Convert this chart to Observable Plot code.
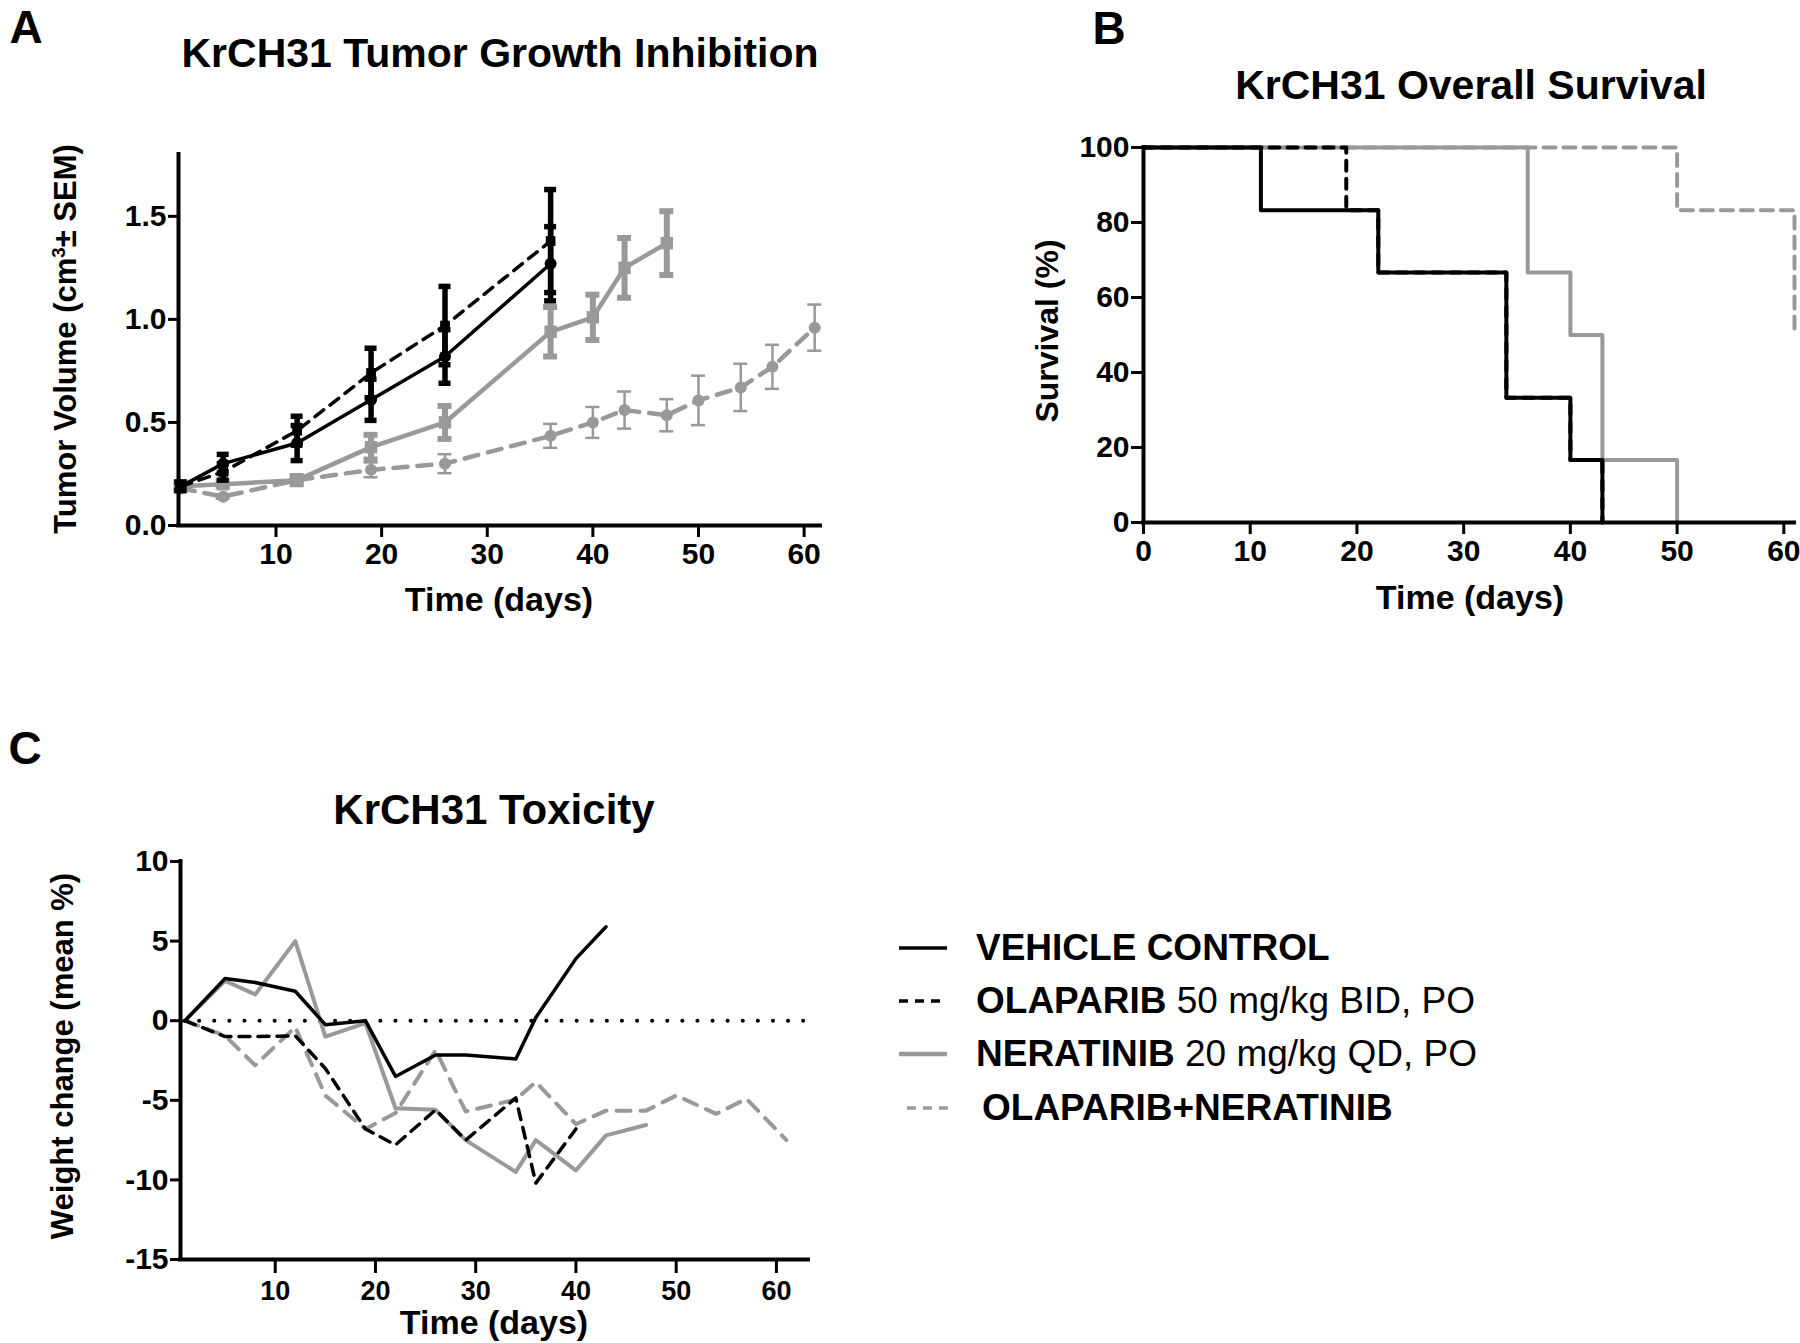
<!DOCTYPE html>
<html>
<head>
<meta charset="utf-8">
<script src="https://cdn.jsdelivr.net/npm/d3@7"></script>
<script src="https://cdn.jsdelivr.net/npm/@observablehq/plot@0.6"></script>
<style>
html,body{margin:0;padding:0;background:#fff;}
#fig{position:relative;width:1800px;height:1343px;overflow:hidden;font-family:"Liberation Sans",Arial,Helvetica,sans-serif;color:#000;}
.abs{position:absolute;white-space:nowrap;line-height:1.2;}
.c{transform:translate(-50%,-50%);}
.rot{transform:translate(-50%,-50%) rotate(-90deg);}
.b{font-weight:bold;}
.n{font-weight:normal;}
.panel{position:absolute;}
.lg{position:absolute;display:flex;align-items:center;white-space:nowrap;font-size:37px;line-height:1.2;transform:translateY(-50%);}
</style>
</head>
<body>
<div id="fig"></div>
<script>
// ---------------- DATA ----------------
// Panel A: tumour volume (cm3) and SEM by day
const aDays = [1, 5, 12, 19, 26, 36, 40, 43, 47, 50, 54, 57, 61];
const aVehicleVol   = [0.19, 0.30, 0.40, 0.61, 0.82, 1.27];
const aVehicleSem   = [0.02, 0.045, 0.085, 0.10, 0.13, 0.18];
const aOlaparibVol  = [0.19, 0.26, 0.46, 0.74, 0.97, 1.38];
const aOlaparibSem  = [0.02, 0.04, 0.07, 0.12, 0.19, 0.25];
const aNeratinibVol = [0.19, 0.20, 0.22, 0.38, 0.50, 0.94, 1.01, 1.25, 1.37];
const aNeratinibSem = [0.02, 0.01, 0.02, 0.06, 0.08, 0.12, 0.11, 0.145, 0.155];
const aComboVol     = [0.18, 0.14, 0.22, 0.27, 0.30, 0.435, 0.50, 0.56, 0.535, 0.607, 0.67, 0.77, 0.96];
const aComboSem     = [0.01, 0.01, 0.01, 0.036, 0.046, 0.058, 0.075, 0.09, 0.078, 0.12, 0.115, 0.107, 0.112];

// Panel B: Kaplan-Meier survival (%)
const bVehicleDays   = [0, 11, 22, 34, 40, 43];
const bVehicleSurv   = [100, 83.3, 66.7, 33.3, 16.7, 0];
const bOlaparibDays  = [0, 19, 22, 34, 40, 43];
const bOlaparibSurv  = [100, 83.3, 66.7, 33.3, 16.7, 0];
const bNeratinibDays = [0, 36, 40, 43, 50];
const bNeratinibSurv = [100, 66.7, 50, 16.7, 0];
const bComboDays     = [0, 50, 61];
const bComboSurv     = [100, 83.3, 50];

// Panel C: weight change (mean %)
const cDays = [1, 5, 8, 12, 15, 19, 22, 26, 29, 34, 36, 40, 43, 47, 50, 54, 57, 61];
const cVehicleWt   = [0, 2.65, 2.4, 1.85, -0.25, 0, -3.5, -2.15, -2.15, -2.4, 0.2, 3.9, 5.9];
const cOlaparibWt  = [0, -1.0, -1.0, -0.95, -3.0, -6.8, -7.8, -5.6, -7.5, -4.85, -10.2, -6.8];
const cNeratinibWt = [0, 2.5, 1.65, 5.0, -1.0, -0.15, -5.5, -5.6, -7.5, -9.5, -7.5, -9.4, -7.2, -6.55];
const cComboWt     = [0, -0.95, -2.8, -0.4, -4.7, -6.8, -5.8, -1.85, -5.7, -4.95, -3.85, -6.5, -5.65, -5.65, -4.7, -5.85, -4.9, -7.5];

// Tick values
const aXTicks = [10, 20, 30, 40, 50, 60];
const aYTicks = [0, 0.5, 1.0, 1.5];
const bXTicks = [0, 10, 20, 30, 40, 50, 60];
const bYTicks = [0, 20, 40, 60, 80, 100];
const cXTicks = [10, 20, 30, 40, 50, 60];
const cYTicks = [-15, -10, -5, 0, 5, 10];

// Legend
const legendNames = ["VEHICLE CONTROL", "OLAPARIB", "NERATINIB", "OLAPARIB+NERATINIB"];
const legendDoses = ["", " 50 mg/kg BID, PO", " 20 mg/kg QD, PO", ""];

// ---------------- BUILD ----------------
const FONT = '"Liberation Sans", Arial, Helvetica, sans-serif';
const BLACK = "#000000";
const GRAY = "#999999";
const fig = document.getElementById("fig");

function withSem(days, vals, sems) {
  return vals.map((v, i) => ({day: days[i], v, lo: v - sems[i], hi: v + sems[i]}));
}
function pts(days, vals) {
  return vals.map((v, i) => ({day: days[i], v}));
}
function svgStyle(size) {
  return {fontFamily: FONT, fontSize: size + "px", fontWeight: "bold", background: "transparent", overflow: "visible", color: "#000"};
}
function place(el, left, top) {
  const d = document.createElement("div");
  d.className = "panel";
  d.style.left = left + "px";
  d.style.top = top + "px";
  d.appendChild(el);
  fig.appendChild(d);
}
function label(text, x, y, size, cls) {
  const d = document.createElement("div");
  d.className = "abs b " + (cls || "c");
  d.style.left = x + "px";
  d.style.top = y + "px";
  d.style.fontSize = size + "px";
  d.innerHTML = text;
  fig.appendChild(d);
}
function errorMarks(data, color, w, cap) {
  return [
    Plot.ruleX(data, {x: "day", y1: "lo", y2: "hi", stroke: color, strokeWidth: w}),
    Plot.ruleY(data, {x1: "day", x2: "day", y: "hi", stroke: color, strokeWidth: w, insetLeft: -cap, insetRight: -cap}),
    Plot.ruleY(data, {x1: "day", x2: "day", y: "lo", stroke: color, strokeWidth: w, insetLeft: -cap, insetRight: -cap})
  ];
}

// ---- Panel A ----
const aVehicle = withSem(aDays, aVehicleVol, aVehicleSem);
const aOlaparib = withSem(aDays, aOlaparibVol, aOlaparibSem);
const aNeratinib = withSem(aDays, aNeratinibVol, aNeratinibSem);
const aCombo = withSem(aDays, aComboVol, aComboSem);
const A_X = [0.77, 61.55], A_Y = [0, 1.8];

const plotA = Plot.plot({
  width: 860, height: 500, marginLeft: 178, marginRight: 40, marginTop: 54, marginBottom: 75,
  x: {domain: A_X}, y: {domain: A_Y},
  style: svgStyle(30),
  marks: [
    ...errorMarks(aCombo, GRAY, 2.5, 7),
    Plot.line(aCombo, {x: "day", y: "v", stroke: GRAY, strokeWidth: 4.5, strokeDasharray: "14,10"}),
    Plot.dot(aCombo, {x: "day", y: "v", r: 6, fill: GRAY}),
    ...errorMarks(aNeratinib, GRAY, 6, 7),
    Plot.line(aNeratinib, {x: "day", y: "v", stroke: GRAY, strokeWidth: 4.5}),
    Plot.dot(aNeratinib, {x: "day", y: "v", r: 7, fill: GRAY, symbol: "square"}),
    ...errorMarks(aOlaparib, BLACK, 5.5, 6),
    Plot.line(aOlaparib, {x: "day", y: "v", stroke: BLACK, strokeWidth: 3.5, strokeDasharray: "11,8"}),
    Plot.dot(aOlaparib, {x: "day", y: "v", r: 5.5, fill: BLACK, symbol: "square"}),
    ...errorMarks(aVehicle, BLACK, 5.5, 6),
    Plot.line(aVehicle, {x: "day", y: "v", stroke: BLACK, strokeWidth: 3.5}),
    Plot.dot(aVehicle, {x: "day", y: "v", r: 6, fill: BLACK}),
    Plot.ruleX([A_X[0]], {stroke: BLACK, strokeWidth: 4, strokeLinecap: "square"}),
    Plot.ruleY([A_Y[0]], {stroke: BLACK, strokeWidth: 4, strokeLinecap: "square"}),
    Plot.axisX({ticks: aXTicks, tickSize: 12, tickPadding: 5, strokeWidth: 3, label: null}),
    Plot.axisY({ticks: aYTicks, tickFormat: d3.format(".1f"), tickSize: 10, tickPadding: 2, strokeWidth: 3, label: null})
  ]
});
place(plotA, 0, 100);

// ---- Panel B ----
const B_X = [0, 61], B_Y = [0, 100];
const plotB = Plot.plot({
  width: 800, height: 500, marginLeft: 143, marginRight: 6, marginTop: 47, marginBottom: 78,
  x: {domain: B_X}, y: {domain: B_Y},
  style: svgStyle(30),
  marks: [
    Plot.line(pts(bNeratinibDays, bNeratinibSurv), {x: "day", y: "v", curve: "step-after", stroke: GRAY, strokeWidth: 4}),
    Plot.line(pts(bComboDays, bComboSurv), {x: "day", y: "v", curve: "step-after", stroke: GRAY, strokeWidth: 4, strokeDasharray: "12,8"}),
    Plot.line(pts(bOlaparibDays, bOlaparibSurv), {x: "day", y: "v", curve: "step-after", stroke: BLACK, strokeWidth: 4, strokeDasharray: "10,8"}),
    Plot.line(pts(bVehicleDays, bVehicleSurv), {x: "day", y: "v", curve: "step-after", stroke: BLACK, strokeWidth: 4}),
    Plot.ruleX([B_X[0]], {stroke: BLACK, strokeWidth: 4, strokeLinecap: "square"}),
    Plot.ruleY([B_Y[0]], {stroke: BLACK, strokeWidth: 4, strokeLinecap: "square"}),
    Plot.axisX({ticks: bXTicks, tickSize: 12, tickPadding: 5, strokeWidth: 3, label: null}),
    Plot.axisY({ticks: bYTicks, tickFormat: d => String(d), tickSize: 12, tickPadding: 2, strokeWidth: 3, label: null})
  ]
});
place(plotB, 1000, 100);

// ---- Panel C ----
const C_X = [0.55, 63.2], C_Y = [-15, 10];
const plotC = Plot.plot({
  width: 860, height: 523, marginLeft: 180, marginRight: 52, marginTop: 41, marginBottom: 84,
  x: {domain: C_X}, y: {domain: C_Y},
  style: svgStyle(30),
  marks: [
    Plot.ruleY([0], {stroke: BLACK, strokeWidth: 4, strokeDasharray: "0.1,15", strokeLinecap: "round", insetLeft: 4, insetRight: 2}),
    Plot.line(pts(cDays, cComboWt), {x: "day", y: "v", stroke: GRAY, strokeWidth: 4, strokeDasharray: "14,10"}),
    Plot.line(pts(cDays, cNeratinibWt), {x: "day", y: "v", stroke: GRAY, strokeWidth: 4}),
    Plot.line(pts(cDays, cOlaparibWt), {x: "day", y: "v", stroke: BLACK, strokeWidth: 3.5, strokeDasharray: "11,8"}),
    Plot.line(pts(cDays, cVehicleWt), {x: "day", y: "v", stroke: BLACK, strokeWidth: 3.5}),
    Plot.ruleX([C_X[0]], {stroke: BLACK, strokeWidth: 4, strokeLinecap: "square"}),
    Plot.ruleY([C_Y[0]], {stroke: BLACK, strokeWidth: 4, strokeLinecap: "square"}),
    Plot.axisX({ticks: cXTicks, tickSize: 14, tickPadding: 7, strokeWidth: 3, fontSize: 27, label: null}),
    Plot.axisY({ticks: cYTicks, tickFormat: d => String(d), tickSize: 10, tickPadding: 2, strokeWidth: 3, label: null})
  ]
});
place(plotC, 0, 820);

// ---- Texts ----
label("A", 26, 28, 46);
label("B", 1109, 29, 46);
label("C", 25, 749, 46);

label("KrCH31 Tumor Growth Inhibition", 500, 54, 41);
label("KrCH31 Overall Survival", 1471, 86, 41);
label("KrCH31 Toxicity", 494, 810, 42);

label("Tumor Volume (cm<sup style='font-size:0.6em;vertical-align:0.6em;line-height:0'>3</sup>± SEM)", 66, 339, 31, "rot");
label("Time (days)", 499, 599, 34);
label("Survival (%)", 1047, 331, 32, "rot");
label("Time (days)", 1470, 597, 34);
label("Weight change (mean %)", 63, 1056, 31, "rot");
label("Time (days)", 494, 1322, 34);

// ---- Legend ----
const legendStyles = [
  {stroke: BLACK, w: 3.5, dash: null, x0: 899, x1: 947, tx: 976},
  {stroke: BLACK, w: 3.5, dash: "9,7", x0: 899, x1: 947, tx: 976},
  {stroke: GRAY, w: 4.5, dash: null, x0: 899, x1: 947, tx: 976},
  {stroke: GRAY, w: 3.5, dash: "9,7", x0: 907, x1: 953, tx: 982}
];
const legendY = [948, 1001, 1054, 1108];
legendNames.forEach((name, i) => {
  const s = legendStyles[i];
  const ns = "http://www.w3.org/2000/svg";
  const sv = document.createElementNS(ns, "svg");
  sv.setAttribute("width", s.x1 - s.x0);
  sv.setAttribute("height", 12);
  sv.style.position = "absolute";
  sv.style.left = s.x0 + "px";
  sv.style.top = (legendY[i] - 6) + "px";
  const ln = document.createElementNS(ns, "line");
  ln.setAttribute("x1", 0); ln.setAttribute("x2", s.x1 - s.x0);
  ln.setAttribute("y1", 6); ln.setAttribute("y2", 6);
  ln.setAttribute("stroke", s.stroke);
  ln.setAttribute("stroke-width", s.w);
  if (s.dash) ln.setAttribute("stroke-dasharray", s.dash);
  sv.appendChild(ln);
  fig.appendChild(sv);
  const t = document.createElement("div");
  t.className = "lg";
  t.style.left = s.tx + "px";
  t.style.top = legendY[i] + "px";
  t.innerHTML = "<span class='b'>" + name + "</span>" + (legendDoses[i] ? "<span class='n' style='white-space:pre'>" + legendDoses[i] + "</span>" : "");
  fig.appendChild(t);
});
</script>
</body>
</html>
